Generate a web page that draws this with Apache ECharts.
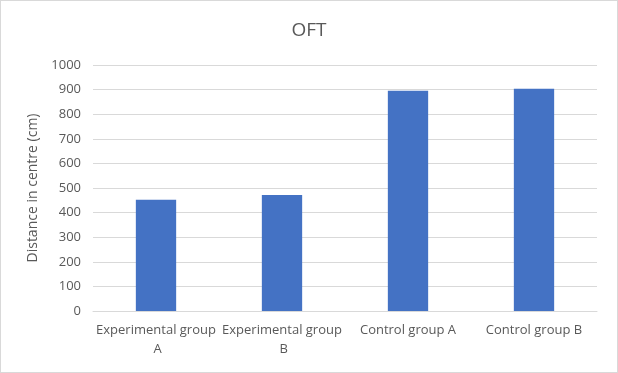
<!DOCTYPE html>
<html><head><meta charset="utf-8">
<script src="https://cdn.jsdelivr.net/npm/echarts@6/dist/echarts.min.js"></script>
<style>html,body{margin:0;padding:0;background:#fff}#c{position:absolute;left:0;top:0;width:616px;height:371px;border:1px solid #d9d9d9}</style>
</head><body><div id="c"></div>
<script>
const categories = ["Experimental group A", "Experimental group B", "Control group A", "Control group B"];
const values = [452, 472, 895, 903];
const yTicks = [0, 100, 200, 300, 400, 500, 600, 700, 800, 900, 1000];
const title = "OFT";
const yName = "Distance in centre (cm)";
const chart = echarts.init(document.getElementById('c'));
const font = "'Open Sans', 'Liberation Sans', sans-serif";
chart.setOption({
  animation: false,
  title: {text: title, left: 'center', top: 15, textStyle: {fontFamily: font, fontSize: 19, fontWeight: 'normal', color: '#595959'}},
  grid: {left: 92, right: 20, top: 64, bottom: 61},
  xAxis: {type: 'category', data: categories,
    axisLine: {lineStyle: {color: '#d9d9d9'}}, axisTick: {show: false},
    axisLabel: {interval: 0, width: 122, overflow: 'break', margin: 10, lineHeight: 19, fontFamily: font, fontSize: 13, color: '#595959'}},
  yAxis: {type: 'value', min: yTicks[0], max: yTicks[yTicks.length-1], interval: 100,
    name: yName, nameLocation: 'middle', nameGap: 51, nameTextStyle: {fontFamily: font, fontSize: 14, color: '#595959'},
    splitLine: {lineStyle: {color: '#d9d9d9'}},
    axisLabel: {margin: 12, fontFamily: font, fontSize: 13, color: '#595959', formatter: v => String(v)}},
  series: [{type: 'bar', data: values, barWidth: '32%', itemStyle: {color: '#4472C4'}}]
});
</script></body></html>
